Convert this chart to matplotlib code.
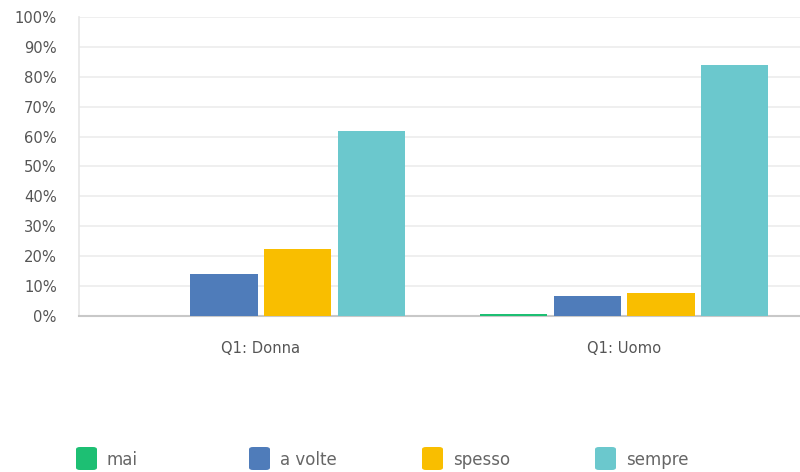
import matplotlib
matplotlib.use("Agg")
import matplotlib.pyplot as plt
from matplotlib.patches import FancyBboxPatch
import numpy as np

categories = ["Q1: Donna", "Q1: Uomo"]
series_names = ["mai", "a volte", "spesso", "sempre"]
mai = [0.0, 0.8]
a_volte = [14.0, 6.7]
spesso = [22.4, 7.7]
sempre = [61.9, 84.0]
colors = ["#1dbf73", "#4f7cba", "#f9be00", "#6bc8cd"]
yticks = [0, 10, 20, 30, 40, 50, 60, 70, 80, 90, 100]
ytick_labels = [f"{v}%" for v in yticks]

series = [mai, a_volte, spesso, sempre]

plt.rcParams['font.family'] = ['DejaVu Sans']
fig = plt.figure(figsize=(8, 4.72), dpi=100)
ax = fig.add_axes([0.099, 0.3305, 0.901, 0.6335])

x = np.arange(len(categories))
step = 0.2025
width = 0.185
for i, (vals, c) in enumerate(zip(series, colors)):
    ax.bar(x + (i - 1.5) * step, vals, width=width, color=c, zorder=3)

ax.set_xlim(-0.5, 1.484)
ax.set_ylim(0, 100)
ax.set_yticks(yticks)
ax.set_yticklabels(ytick_labels)
ax.set_xticks(x)
ax.set_xticklabels(categories)
ax.yaxis.grid(True, color="#ececec", linewidth=1.2, zorder=0)
ax.set_axisbelow(True)
for s in ["top", "right"]:
    ax.spines[s].set_visible(False)
ax.spines["left"].set_color("#e6e6e6")
ax.spines["left"].set_linewidth(1.2)
ax.spines["bottom"].set_color("#c8c8c8")
ax.spines["bottom"].set_linewidth(1.5)
ax.tick_params(axis="both", length=0, labelsize=10.6, colors="#555555")
ax.tick_params(axis="y", pad=16)
ax.tick_params(axis="x", pad=18)

# manual legend
leg_x = [76, 249, 422, 595]
for name, c, lx in zip(series_names, colors, leg_x):
    fx = lx / 800
    fy = 1 - 470 / 472
    box = FancyBboxPatch((fx, fy), 21 / 800, 23 / 472,
                         boxstyle="round,pad=0,rounding_size=0.005",
                         transform=fig.transFigure, facecolor=c, edgecolor="none")
    fig.patches.append(box)
    fig.text((lx + 31) / 800, 1 - 460 / 472, name, fontsize=12, color="#666666",
             va="center", ha="left")

fig.savefig("out.png", dpi=100, facecolor="white")
